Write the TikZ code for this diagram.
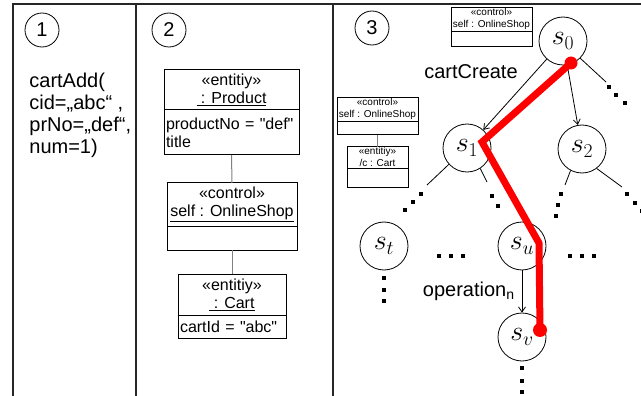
\RequirePackage{fix-cm}
\documentclass[tikz,border=0pt]{standalone}
\usepackage{fontspec}
\setmainfont{Liberation Sans}[Ligatures=TeXOff]
\usetikzlibrary{positioning,arrows.meta}

\newcommand\bigfont{\fontsize{16}{18}\selectfont}
\newcommand\smallfont{\fontsize{10}{11.5}\selectfont}
\newcommand\sqdots[1]{\foreach \x/\y in {#1} \fill (\x-1.8,\y-1.8) rectangle (\x+1.8,\y+1.8);}

\tikzset{
  frame/.style={line width=1.5pt, black!85},
  num/.style={draw, circle, minimum size=34pt, inner sep=0pt, font=\fontsize{20}{22}\selectfont},
  head/.style={draw, line width=1pt, inner sep=0pt, outer sep=0pt, align=center},
  attr/.style={draw, line width=1pt, inner xsep=2pt, inner ysep=0pt, outer sep=0pt, align=left},
  state/.style={draw, circle, minimum size=48pt, inner sep=0pt, font=\fontsize{28}{30}\selectfont},
  link/.style={gray, line width=1pt},
  redpath/.style={red, line width=7pt},
  >={Straight Barb[length=5pt,width=7pt]}
}

\begin{document}
\begin{tikzpicture}[x=1pt,y=-1pt,line width=0.8pt]
\useasboundingbox (0,0) rectangle (641,396);

\draw[frame] (13,396) -- (13,4) -- (641,4);
\draw[frame] (136,4) -- (136,396);
\draw[frame] (333,4) -- (333,396);

\node[num] (n1) at (42,30) {1};
\node[num] (n2) at (169,30) {2};
\node[num] (n3) at (372,28) {3};

% panel 1
\node[anchor=north west, inner sep=0pt, align=left, font=\fontsize{20}{22}\selectfont] (call) at (29,73)
  {cartAdd(\\cid=„abc“ ,\\prNo=„def“,\\num=1)};

% panel 2
\node[head, font=\bigfont, minimum width=135pt, minimum height=40pt, anchor=north west] (prodhead) at (164,70)
  {«entitiy»\\\underline{~: Product}};
\node[attr, font=\bigfont, minimum height=45pt, text width=131pt, anchor=north] (prodattr) at (prodhead.south)
  {productNo = "def"\\title};
\node[head, font=\bigfont, minimum width=130pt, minimum height=43pt, anchor=north west] (ctrlhead) at (167,183)
  {«control»\\\underline{self : OnlineShop}};
\node[attr, minimum height=24pt, text width=126pt, anchor=north] (ctrlattr) at (ctrlhead.south) {};
\node[head, font=\bigfont, minimum width=108pt, minimum height=41pt, anchor=north west] (carthead) at (178,274)
  {«entitiy»\\\underline{~: Cart}};
\node[attr, font=\bigfont, minimum height=23pt, text width=104pt, anchor=north] (cartattr) at (carthead.south)
  {cartId = "abc"};
\draw[link] (prodattr.south) -- (ctrlhead.north);
\draw[link] (ctrlattr.south) -- (carthead.north);

% panel 3
\node[head, font=\smallfont, minimum width=81pt, minimum height=24pt, anchor=north west] (shophead) at (451,8)
  {«control»\\\underline{self : OnlineShop}};
\node[attr, minimum height=15pt, text width=77pt, anchor=north] (shopattr) at (shophead.south) {};
\node[head, font=\smallfont, minimum width=81pt, minimum height=24pt, anchor=north west] (lshophead) at (337,98)
  {«control»\\\underline{self : OnlineShop}};
\node[attr, minimum height=13pt, text width=77pt, anchor=north] (lshopattr) at (lshophead.south) {};
\node[head, font=\smallfont, minimum width=61pt, minimum height=22pt, anchor=north west] (lcarthead) at (347,147)
  {«entitiy»\\\underline{/c : Cart}};
\node[attr, minimum height=18pt, text width=57pt, anchor=north] (lcartattr) at (lcarthead.south) {};
\draw[link] (lshopattr.south) -- (lcarthead.north);

\node[state] (s0) at (563,41) {$s_0$};
\node[state] (s1) at (467,148) {$s_1$};
\node[state] (s2) at (582,149) {$s_2$};
\node[state] (st) at (384,246) {$s_t$};
\node[state] (su) at (522,246) {$s_u$};
\node[state] (sv) at (522,337) {$s_v$};

\draw[->] (s0) -- (s1);
\draw[->] (s0) -- (s2);
\draw[->] (su) -- (sv);

\node[font=\fontsize{20}{22}\selectfont] (create) at (471,72) {cartCreate};
\node[anchor=base east, inner sep=0pt, font=\fontsize{20}{22}\selectfont] (oper) at (515,296) {operation\textsubscript{n}};

\draw (s0.-45) -- (606,82) coordinate (b0);
\draw (s1.222) -- (427,185) coordinate (b1);
\draw (s1.-57) -- (487,182) coordinate (b2);
\draw (s2.242) -- (565,185) coordinate (b3);
\draw (s2.-53) -- (622,187) coordinate (b4);
\sqdots{609/87,616/95,625/103}
\sqdots{421/194,413/202,405/210}
\sqdots{492/196,498/206}
\sqdots{561/194,558/205,556/216}
\sqdots{627/194,635/203,642/211}
\sqdots{384/278,384/290,384/301}
\sqdots{522/368,522/381,522/392}
\sqdots{439/256,451/256,463/256}
\sqdots{570/256,582/256,594/256}

\draw[redpath] (571,63) -- (482,142) -- (539,243) -- (540,330);
\fill[red] (571,63) circle (6.5);
\fill[red] (540,330) circle (7);
\end{tikzpicture}
\end{document}
